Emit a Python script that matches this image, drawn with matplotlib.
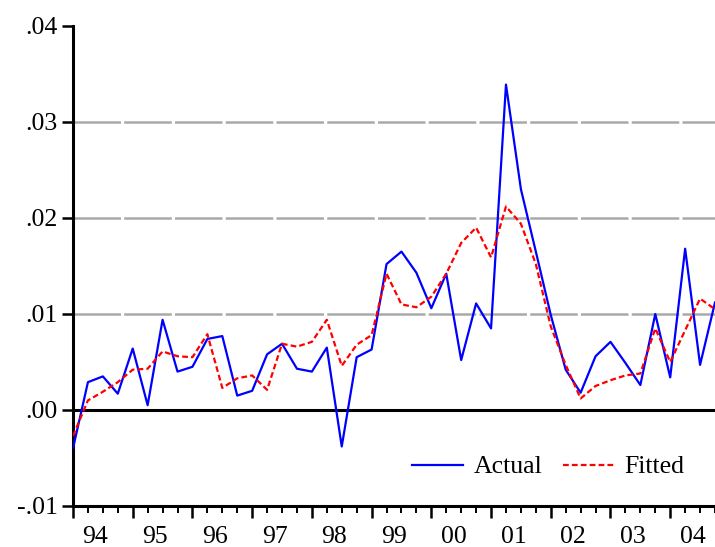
import numpy as np
import matplotlib.pyplot as plt
import matplotlib.transforms as mtransforms

# quarterly data, 1994Q1 .. 2004Q4
actual = [-0.0040, 0.0029, 0.0035, 0.0017, 0.0064, 0.0005, 0.0094, 0.0040, 0.0045, 0.0074,
          0.0077, 0.0015, 0.0020, 0.0058, 0.0069, 0.0043, 0.0040, 0.0065, -0.0038, 0.0055,
          0.0063, 0.0152, 0.0165, 0.0143, 0.0106, 0.0142, 0.0052, 0.0111, 0.0085, 0.0339,
          0.0230, 0.0165, 0.0099, 0.0042, 0.0018, 0.0056, 0.0071, 0.0049, 0.0026, 0.0100,
          0.0034, 0.0168, 0.0047, 0.0112]
fitted = [-0.0027, 0.0010, 0.0019, 0.0029, 0.0042, 0.0043, 0.0061, 0.0056, 0.0055, 0.0079,
          0.0023, 0.0033, 0.0036, 0.0021, 0.0069, 0.0066, 0.0071, 0.0094, 0.0046, 0.0068,
          0.0078, 0.0142, 0.0110, 0.0107, 0.0118, 0.0142, 0.0174, 0.0190, 0.0159, 0.0212,
          0.0194, 0.0152, 0.0087, 0.0047, 0.0012, 0.0025, 0.0031, 0.0036, 0.0038, 0.0085,
          0.0050, 0.0083, 0.0116, 0.0105]
years = ["94", "95", "96", "97", "98", "99", "00", "01", "02", "03", "04"]
yticks = [-0.01, 0.0, 0.01, 0.02, 0.03, 0.04]
ytick_labels = ["-.01", ".00", ".01", ".02", ".03", ".04"]

plt.rcParams['font.family'] = ['Liberation Serif', 'DejaVu Serif']
plt.rcParams['font.size'] = 18.5

fig = plt.figure(figsize=(7.15, 5.47), dpi=100)
ax = fig.add_axes([73/715, 41/547, 642/715, 480/547])

x = np.arange(len(actual))

# grid lines
for g in [0.01, 0.02, 0.03]:
    ax.axhline(g, color='#a9a9a9', lw=1.8, linestyle=(0, (19, 1.3)), zorder=1)
ax.axhline(0.0, color='black', lw=2.2, zorder=2)

ax.plot(x, actual, color='#0000ff', lw=1.6, label='Actual', zorder=3)
ax.plot(x, fitted, color='#ff0000', lw=1.6, linestyle=(0, (2.6, 1.4)),
        label='Fitted', zorder=3)

ax.set_xlim(0, 642/14.97)
ax.set_ylim(-0.01, 0.04)

for s in ['top', 'right']:
    ax.spines[s].set_visible(False)
for s in ['left', 'bottom']:
    ax.spines[s].set_linewidth(2.2)

ax.set_yticks(yticks, ytick_labels)
ax.tick_params(axis='y', direction='out', length=8, width=1.8, pad=3)

ax.set_xticks(np.arange(0, 44, 4))
ax.set_xticks(np.arange(0, 44, 1), minor=True)
ax.set_xticklabels([])
ax.tick_params(axis='x', which='major', direction='out', length=8.5, width=1.8)
ax.tick_params(axis='x', which='minor', direction='out', length=5, width=1.4)

trans = mtransforms.blended_transform_factory(ax.transData, ax.transAxes)
for k, yr in enumerate(years):
    ax.text(4*k + 1.5, -0.065, yr, transform=trans, ha='center', va='center')

ax.legend(loc='center left', bbox_to_anchor=((412-73)/642, (506-467)/480),
          ncol=2, frameon=False, borderpad=0, borderaxespad=0,
          handlelength=2.0, handletextpad=0.4, columnspacing=0.8)

fig.savefig('out.png', dpi=100)
